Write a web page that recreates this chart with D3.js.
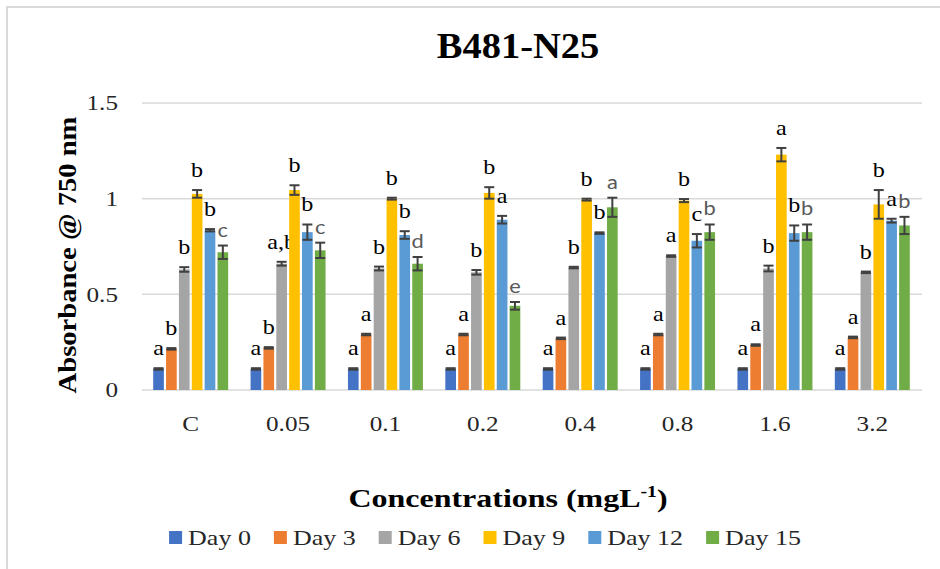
<!DOCTYPE html>
<html lang="en">
<head>
  <meta charset="UTF-8">
  <title>B481-N25</title>
  <script src="https://cdn.jsdelivr.net/npm/d3@7"></script>
  <style>
    html, body { margin: 0; padding: 0; background: #fff; }
    svg { display: block; }
  </style>
</head>
<body>

  <script>
    /**
     * -----------------------------------------------------------------------
     *  Data
     * -----------------------------------------------------------------------
     */
    const CATEGORIES = ["C", "0.05", "0.1", "0.2", "0.4", "0.8", "1.6", "3.2"];
    const SERIES = ["Day 0", "Day 3", "Day 6", "Day 9", "Day 12", "Day 15"];
    const Y_TICKS = [0, 0.5, 1, 1.5];

    const DAY_0  = [0.11, 0.11, 0.11, 0.11, 0.11, 0.11, 0.11, 0.11];
    const DAY_3  = [0.215, 0.22, 0.29, 0.29, 0.27, 0.29, 0.235, 0.275];
    const DAY_6  = [0.63, 0.66, 0.635, 0.615, 0.64, 0.70, 0.635, 0.615];
    const DAY_9  = [1.025, 1.045, 1.0, 1.03, 0.995, 0.99, 1.23, 0.97];
    const DAY_12 = [0.835, 0.825, 0.81, 0.89, 0.82, 0.78, 0.82, 0.885];
    const DAY_15 = [0.72, 0.73, 0.66, 0.44, 0.955, 0.825, 0.825, 0.86];

    const ERR_0  = [0.004, 0.004, 0.004, 0.004, 0.004, 0.004, 0.004, 0.004];
    const ERR_3  = [0.004, 0.004, 0.004, 0.004, 0.004, 0.004, 0.004, 0.004];
    const ERR_6  = [0.012, 0.01, 0.01, 0.012, 0.004, 0.004, 0.015, 0.004];
    const ERR_9  = [0.02, 0.025, 0.005, 0.03, 0.005, 0.008, 0.035, 0.075];
    const ERR_12 = [0.006, 0.04, 0.02, 0.02, 0.004, 0.035, 0.04, 0.01];
    const ERR_15 = [0.035, 0.04, 0.035, 0.02, 0.05, 0.04, 0.04, 0.045];

    const LETTERS_0  = ["a", "a", "a", "a", "a", "a", "a", "a"];
    const LETTERS_3  = ["b", "b", "a", "a", "a", "a", "a", "a"];
    const LETTERS_6  = ["b", "a,b", "b", "b", "b", "a", "b", "b"];
    const LETTERS_9  = ["b", "b", "b", "b", "b", "b", "a", "b"];
    const LETTERS_12 = ["b", "b", "b", "a", "b", "c", "b", "a"];
    const LETTERS_15 = ["c", "c", "d", "e", "a", "b", "b", "b"];

    const COLORS = ["#4472c4", "#ed7d31", "#a5a5a5", "#ffc000", "#5b9bd5", "#70ad47"];

    const VALUES = [DAY_0, DAY_3, DAY_6, DAY_9, DAY_12, DAY_15];
    const ERRORS = [ERR_0, ERR_3, ERR_6, ERR_9, ERR_12, ERR_15];
    const LETTERS = [LETTERS_0, LETTERS_3, LETTERS_6, LETTERS_9, LETTERS_12, LETTERS_15];

    // one row per bar
    const bars = [];
    CATEGORIES.forEach((cat, ci) => {
      SERIES.forEach((day, si) => {
        bars.push({
          cat, day, si,
          value: VALUES[si][ci],
          err: ERRORS[si][ci],
          letter: LETTERS[si][ci],
        });
      });
    });


    /**
     * -----------------------------------------------------------------------
     *  Render
     * -----------------------------------------------------------------------
     */
    const W = 940, H = 569;
    const SERIF = "'Liberation Serif', 'Times New Roman', serif";

    const svg = d3.select("body").append("svg")
        .attr("width", W)
        .attr("height", H);

    svg.append("rect")
        .attr("width", W).attr("height", H)
        .attr("fill", "#fff");

    // chart frame (only top & left edges are inside the picture)
    svg.append("rect")
        .attr("x", 7).attr("y", 7)
        .attr("width", W).attr("height", H)
        .attr("fill", "none")
        .attr("stroke", "#d9d9d9")
        .attr("stroke-width", 2);

    const x0 = d3.scaleBand()
        .domain(CATEGORIES)
        .range([142, 921]);

    const x1 = d3.scaleBand()
        .domain(SERIES)
        .range([x0.bandwidth() * 0.115, x0.bandwidth() * 0.885])
        .paddingInner(0.17);

    const y = d3.scaleLinear()
        .domain([0, 1.5])
        .range([390, 103]);

    const color = d3.scaleOrdinal().domain(SERIES).range(COLORS);

    // gridlines
    svg.append("g")
        .selectAll("line")
        .data(Y_TICKS)
        .join("line")
        .attr("x1", 142).attr("x2", 922)
        .attr("y1", d => y(d)).attr("y2", d => y(d))
        .attr("stroke", "#d9d9d9")
        .attr("stroke-width", 1.5);

    // y axis
    const yAxis = svg.append("g")
        .attr("transform", "translate(142,0)")
        .call(d3.axisLeft(y).tickValues(Y_TICKS).tickSize(0).tickFormat(d3.format("")));
    yAxis.select(".domain").remove();
    yAxis.selectAll("text")
        .attr("x", -20)
        .attr("dy", "0.33em")
        .attr("transform", "scale(1.2,1)")
        .style("font-family", SERIF)
        .style("font-size", "21px")
        .attr("fill", "#262626");

    // x axis
    const xAxis = svg.append("g")
        .attr("transform", "translate(0,390)")
        .call(d3.axisBottom(x0).tickSize(0));
    xAxis.select(".domain").remove();
    xAxis.selectAll("text")
        .attr("y", 41)
        .attr("dy", 0)
        .attr("transform", "scale(1.2,1)")
        .style("font-family", SERIF)
        .style("font-size", "21px")
        .attr("fill", "#262626");

    // bars
    const groups = svg.append("g")
        .selectAll("g")
        .data(bars)
        .join("g")
        .attr("transform", d => `translate(${x0(d.cat) + x1(d.day)},0)`);

    const bw = x1.bandwidth();

    groups.append("rect")
        .attr("x", 0)
        .attr("y", d => y(d.value))
        .attr("width", bw)
        .attr("height", d => y(0) - y(d.value))
        .attr("fill", d => color(d.day));

    // error bars
    const eb = groups.append("g")
        .attr("stroke", "#404040")
        .attr("stroke-width", 2);
    eb.append("line")
        .attr("x1", bw / 2).attr("x2", bw / 2)
        .attr("y1", d => y(d.value + d.err))
        .attr("y2", d => y(d.value - d.err));
    eb.append("line")
        .attr("x1", bw / 2 - 5).attr("x2", bw / 2 + 5)
        .attr("y1", d => y(d.value + d.err))
        .attr("y2", d => y(d.value + d.err));
    eb.append("line")
        .attr("x1", bw / 2 - 5).attr("x2", bw / 2 + 5)
        .attr("y1", d => y(d.value - d.err))
        .attr("y2", d => y(d.value - d.err));

    // significance letters
    groups.append("text")
        .attr("transform", d => {
          let off = d.si === 5 ? 9 : 13;
          return `translate(${bw / 2},${y(d.value + d.err) - off}) scale(1.15,1)`;
        })
        .attr("text-anchor", "middle")
        .style("font-family", d => d.si === 5 ? "Lato, 'Open Sans', sans-serif" : SERIF)
        .style("font-size", d => d.si === 5 ? "19px" : "21px")
        .attr("fill", d => d.si === 5 ? "#595959" : "#000")
        .text(d => d.letter);

    // title
    svg.append("text")
        .attr("transform", "translate(518,58) scale(1.1,1)")
        .attr("text-anchor", "middle")
        .style("font-family", SERIF)
        .style("font-size", "35px")
        .style("font-weight", "bold")
        .text("B481-N25");

    // y axis title
    svg.append("text")
        .attr("transform", "translate(76,255) rotate(-90) scale(1.1,1)")
        .attr("text-anchor", "middle")
        .style("font-family", SERIF)
        .style("font-size", "26px")
        .style("font-weight", "bold")
        .text("Absorbance @ 750 nm");

    // x axis title
    const xt = svg.append("text")
        .attr("transform", "translate(508,507) scale(1.23,1)")
        .attr("text-anchor", "middle")
        .style("font-family", SERIF)
        .style("font-size", "26px")
        .style("font-weight", "bold");
    xt.append("tspan").text("Concentrations (mgL");
    xt.append("tspan").attr("dy", -10).style("font-size", "16px").text("-1");
    xt.append("tspan").attr("dy", 10).text(")");

    // legend
    const LX = 1.3;
    const legend = svg.append("g");
    const items = legend.selectAll("g")
        .data(SERIES)
        .join("g");
    items.append("rect")
        .attr("y", 531)
        .attr("width", 13).attr("height", 13)
        .attr("fill", d => color(d));
    items.append("text")
        .attr("transform", `translate(19,545) scale(${LX},1)`)
        .style("font-family", SERIF)
        .style("font-size", "20px")
        .attr("fill", "#262626")
        .text(d => d);

    let cursor = 0;
    const offsets = [];
    items.each(function () {
      const tw = d3.select(this).select("text").node().getComputedTextLength() * LX;
      offsets.push(cursor);
      cursor += 19 + tw + 23;
    });
    const total = cursor - 23;
    const start = 485 - total / 2;
    items.attr("transform", (d, i) => `translate(${start + offsets[i]},0)`);
  </script>

</body>
</html>
